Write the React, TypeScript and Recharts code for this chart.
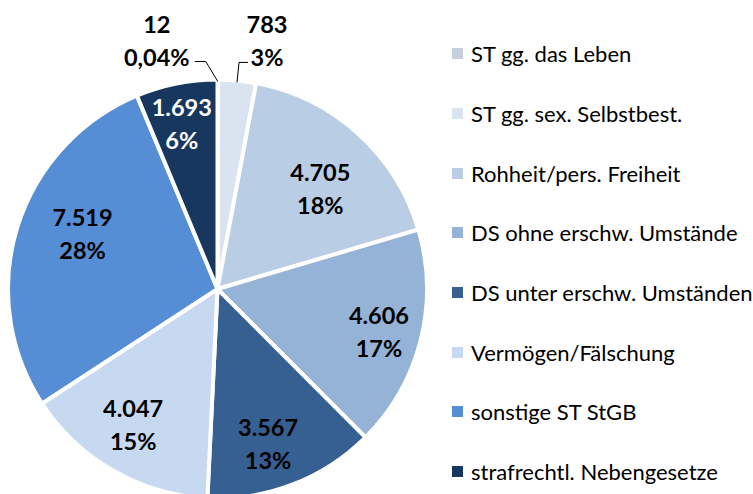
import React from "react";
import { PieChart, Pie, Cell, Legend } from "recharts";

const categories = [
  "ST gg. das Leben",
  "ST gg. sex. Selbstbest.",
  "Rohheit/pers. Freiheit",
  "DS ohne erschw. Umstände",
  "DS unter erschw. Umständen",
  "Vermögen/Fälschung",
  "sonstige ST StGB",
  "strafrechtl. Nebengesetze",
];
const values = [12, 783, 4705, 4606, 3567, 4047, 7519, 1693];
const percentLabels = ["0,04%", "3%", "18%", "17%", "13%", "15%", "28%", "6%"];

const COLORS = ["#c7cfdc", "#dae4f1", "#b9cde5", "#95b3d7", "#376092", "#c6d9f1", "#558ed5", "#17375e"];
const LABEL_COLORS = ["#000", "#000", "#000", "#000", "#000", "#000", "#000", "#fff"];
// label placement nudges (radius in px from centre, angle offset in degrees clockwise)
const LABEL_R = [0, 0, 144, 167, 163, 160, 146, 169];
const LABEL_DA = [0, 0, 3.5, 0.5, 3, 2, 5.3, -0.9];

const data = categories.map((name, i) => ({ name, value: values[i] }));

const fmt = (n: number) => String(n).replace(/\B(?=(\d{3})+(?!\d))/g, ".");
const FONT = "Lato, 'Open Sans', sans-serif";
const RAD = Math.PI / 180;
const LABEL_STYLE = { fontFamily: FONT, fontWeight: 700, fontSize: 23.5 } as const;

const renderLabel = (props: any) => {
  const { cx, cy, midAngle, outerRadius, index } = props;
  const value = values[index];
  if (index < 2) {
    const a = midAngle * RAD;
    const ex = cx + (outerRadius - 2) * Math.cos(a);
    const ey = cy - (outerRadius - 2) * Math.sin(a);
    const left = index === 0;
    const elbowX = left ? ex - 12 : ex + 2;
    const elbowY = ey - 20;
    const endX = left ? ex - 23 : ex + 11;
    const tx = left ? ex - 61 : ex + 30;
    return (
      <g key={`l${index}`}>
        <polyline
          points={`${ex},${ey} ${elbowX},${elbowY} ${endX},${elbowY}`}
          fill="none"
          stroke="#000"
          strokeWidth={1}
        />
        <text x={tx} y={ey - 58} textAnchor="middle" dominantBaseline="central" fill="#000" style={LABEL_STYLE}>
          {fmt(value)}
        </text>
        <text x={tx} y={ey - 25} textAnchor="middle" dominantBaseline="central" fill="#000" style={LABEL_STYLE}>
          {percentLabels[index]}
        </text>
      </g>
    );
  }
  const ang = (midAngle - LABEL_DA[index]) * RAD;
  const r = LABEL_R[index];
  const x = cx + r * Math.cos(ang);
  const y = cy - r * Math.sin(ang);
  return (
    <g key={`l${index}`}>
      <text x={x} y={y - 16.5} textAnchor="middle" dominantBaseline="central" fill={LABEL_COLORS[index]} style={LABEL_STYLE}>
        {fmt(value)}
      </text>
      <text x={x} y={y + 16.5} textAnchor="middle" dominantBaseline="central" fill={LABEL_COLORS[index]} style={LABEL_STYLE}>
        {percentLabels[index]}
      </text>
    </g>
  );
};

const renderLegend = () => (
  <div style={{ fontFamily: FONT, fontSize: 22, color: "#000" }}>
    {categories.map((c, i) => (
      <div key={c} style={{ height: 59.7, display: "flex", alignItems: "center", whiteSpace: "nowrap" }}>
        <span style={{ display: "inline-block", width: 11, height: 11, background: COLORS[i], marginRight: 8 }} />
        <span>{c}</span>
      </div>
    ))}
  </div>
);

export default function App() {
  return (
    <div style={{ position: "absolute", left: 0, top: 0, width: 753, height: 494, background: "#fff" }}>
      <PieChart width={753} height={494} margin={{ top: 0, right: 0, bottom: 0, left: 0 }}>
        <Pie
          data={data}
          dataKey="value"
          nameKey="name"
          cx={217.5}
          cy={289}
          outerRadius={209.5}
          startAngle={90}
          endAngle={-270}
          stroke="#fff"
          strokeWidth={4}
          labelLine={false}
          label={renderLabel}
          isAnimationActive={false}
        >
          {data.map((d, i) => (
            <Cell key={d.name} fill={COLORS[i]} />
          ))}
        </Pie>
        <Legend
          layout="vertical"
          align="right"
          verticalAlign="top"
          content={renderLegend}
          wrapperStyle={{ left: 452, top: 24, width: 301 }}
        />
      </PieChart>
    </div>
  );
}
